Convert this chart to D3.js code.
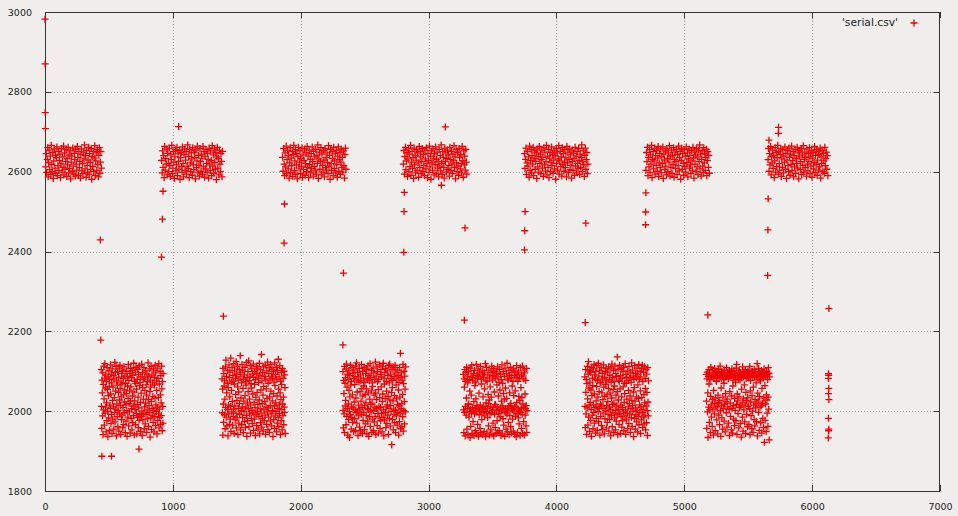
<!DOCTYPE html>
<html>
<head>
<meta charset="utf-8">
<script src="https://cdn.jsdelivr.net/npm/d3@7"></script>
<style>
  html, body { margin: 0; padding: 0; background: #efeeec; }
  svg { display: block; }
</style>
</head>
<body>
<svg id="chart" width="958" height="516"></svg>
<script>
// ---------------- DATA ----------------
const xTicks = [0, 1000, 2000, 3000, 4000, 5000, 6000, 7000];
const yTicks = [1800, 2000, 2200, 2400, 2600, 2800, 3000];
const seriesName = "'serial.csv'";

// upper clusters: sample index start, index step, values
const highStart = [5, 912, 1858, 2803, 3750, 4700, 5655];
const highStep = 4;
const high1 = [2612,2645,2598,2631,2660,2587,2622,2654,2605,2639,2593,2666,2618,2600,2648,2583,2627,2657,2609,2641,
2596,2635,2662,2590,2615,2651,2603,2628,2644,2585,2620,2658,2599,2637,2611,2664,2592,2647,2606,2625,
2655,2588,2633,2617,2661,2597,2642,2608,2652,2582,2624,2639,2601,2659,2614,2594,2646,2630,2589,2656,
2619,2604,2663,2636,2591,2650,2610,2626,2584,2643,2657,2602,2621,2595,2649,2632,2667,2607,2640,2586,
2653,2616,2598,2629,2661,2593,2645,2623,2605,2658,2581,2638,2613,2651,2600,2634,2665,2590,2627,2647,
2603,2655,2618,2587,2641,2660,2596,2624,2650,2609];
const high2 = [2628,2597,2652,2611,2640,2585,2663,2604,2633,2619,2657,2592,2646,2621,2600,2659,2615,2588,2642,2630,
2666,2595,2609,2650,2624,2583,2637,2655,2602,2617,2661,2590,2645,2626,2606,2653,2581,2635,2648,2613,
2599,2662,2620,2587,2643,2657,2603,2629,2651,2594,2614,2667,2608,2638,2585,2656,2622,2600,2647,2632,
2591,2660,2618,2605,2649,2636,2582,2654,2610,2627,2664,2597,2641,2616,2589,2658,2625,2601,2644,2634,
2593,2663,2612,2650,2586,2639,2607,2655,2621,2598,2646,2631,2584,2659,2617,2603,2652,2628,2590,2665,
2614,2642,2596,2657,2623,2606,2648,2580,2637,2661,2609,2633,2592,2654,2619,2600,2645,2626,2587,2651];
const high3 = [2636,2601,2658,2619,2590,2647,2612,2664,2595,2630,2653,2607,2641,2584,2622,2660,2598,2634,2615,2650,
2588,2643,2666,2603,2627,2655,2593,2617,2646,2582,2638,2661,2609,2624,2652,2596,2633,2614,2659,2586,
2642,2605,2628,2657,2591,2620,2648,2600,2663,2611,2639,2585,2654,2618,2631,2597,2645,2608,2662,2625,
2589,2651,2613,2637,2602,2656,2594,2640,2621,2667,2583,2632,2649,2606,2626,2660,2592,2644,2616,2599,
2653,2629,2587,2658,2610,2635,2604,2647,2623,2595,2665,2614,2641,2581,2656,2620,2603,2650,2633,2590,
2661,2608,2627,2645,2597,2654,2618,2586,2639,2662,2601,2630,2648,2593,2624,2657,2611,2636,2599,2652,
2615,2584,2643,2659,2606];
const high4 = [2619,2653,2594,2638,2661,2605,2627,2648,2588,2632,2657,2600,2644,2613,2666,2591,2624,2651,2608,2635,
2583,2659,2617,2641,2597,2629,2655,2603,2647,2622,2586,2663,2610,2637,2650,2595,2626,2658,2601,2643,
2615,2590,2654,2632,2607,2660,2620,2585,2646,2628,2598,2664,2612,2639,2581,2652,2623,2604,2657,2634,
2592,2645,2618,2662,2596,2631,2649,2609,2626,2587,2656,2614,2640,2602,2667,2621,2593,2650,2636,2611,
2584,2659,2625,2647,2599,2633,2654,2606,2642,2616,2589,2661,2630,2603,2651,2619,2595,2644,2627,2665,
2610,2637,2582,2655,2622,2600,2648,2614,2591,2658,2635,2607,2643,2620,2597,2663,2628,2586,2652,2617,
2639,2604,2656,2624,2594];
const high5 = [2645,2608,2631,2659,2593,2622,2650,2614,2637,2586,2664,2603,2628,2655,2597,2641,2619,2661,2590,2633,
2652,2606,2626,2647,2583,2657,2612,2638,2599,2663,2621,2644,2595,2630,2654,2609,2636,2588,2660,2617,
2649,2602,2625,2666,2592,2639,2611,2656,2585,2634,2648,2600,2623,2662,2615,2643,2596,2629,2653,2607,
2640,2581,2658,2620,2647,2604,2632,2665,2594,2627,2651,2613,2637,2589,2660,2618,2645,2601,2624,2655,
2610,2635,2587,2663,2622,2649,2598,2631,2657,2605,2642,2616,2584,2654,2626,2603,2646,2633,2591,2661,
2614,2639,2597,2650,2621,2608,2658,2628,2593,2644,2611,2636,2667,2600,2625,2652,2617,2588,2641,2659,
2606,2630,2648,2595,2619];
const high6 = [2603,2648,2625,2661,2590,2636,2612,2655,2598,2642,2619,2666,2585,2631,2650,2607,2627,2659,2594,2640,
2616,2653,2601,2634,2663,2588,2622,2646,2610,2657,2597,2638,2620,2662,2583,2644,2629,2605,2652,2614,
2592,2658,2633,2600,2647,2624,2665,2589,2637,2611,2654,2596,2641,2618,2660,2586,2630,2649,2608,2626,
2656,2593,2643,2615,2664,2602,2635,2651,2581,2628,2659,2606,2645,2621,2591,2655,2613,2639,2599,2662,
2623,2647,2587,2632,2657,2609,2640,2617,2595,2653,2627,2604,2661,2634,2584,2649,2619,2642,2600,2658,
2612,2637,2593,2654,2625,2667,2607,2644,2589,2631,2652,2614,2598,2660,2622,2646,2603,2636,2656,2590,
2628,2650,2611,2641,2596];
const high7 = [2630,2658,2601,2645,2617,2663,2592,2638,2622,2654,2608,2641,2585,2627,2660,2599,2648,2613,2635,2666,
2594,2651,2620,2604,2643,2657,2588,2632,2611,2655,2597,2639,2624,2662,2606,2646,2583,2629,2653,2615,
2600,2659,2636,2591,2644,2618,2664,2603,2628,2650,2587,2640,2612,2656,2596,2633,2621,2661,2609,2647,
2582,2637,2653,2605,2625,2658,2593,2642,2616,2665,2599,2631,2649,2610,2636,2589,2657,2619,2602,2645,
2626,2660,2595,2639,2614,2652,2586,2634,2648,2607,2623,2663,2598,2641,2618,2655,2591,2629,2651,2604,
2643,2612,2659,2584,2637,2621,2654,2600,2646,2627,2596,2661,2615,2633,2649,2606,2640,2590];

// lower clusters
const lowStart = [440, 1385, 2330, 3272, 4222, 5172];
const lowStep = 2;
const low1 = [2104,2012,1957,2078,2046,1988,2096,1941,2067,2003,2113,2031,1965,2083,2119,1995,2058,2010,2091,1948,
2074,2021,1976,2109,2054,1999,1936,2086,2039,1983,2101,2062,1952,2079,2015,2007,2116,2043,1969,2093,
1992,2071,1944,2106,2027,1980,2060,2089,2011,1955,2081,2034,1997,2122,1973,2097,2050,2005,2112,1938,
2076,2018,1986,2065,2099,1961,2002,2047,2085,1950,2108,2028,1993,2115,2057,2014,1942,2073,2036,1979,
2094,2068,1990,2103,1958,2009,2082,2041,1967,2111,2023,1996,2053,2088,1946,2070,2016,1975,2100,2044,
2001,1937,2087,2063,1985,2032,2117,1963,2077,2019,1998,2051,2095,1945,2025,2107,2061,1982,2084,2006,
1953,2102,2038,1971,2090,2013,1989,2120,2048,1940,2075,2026,2004,2098,1966,2069,2110,1994,2055,1943,
2080,2017,1984,2105,2035,1959,2092,2008,1977,2114,2064,1991,2072,1949,2022,2086,2045,1987,2118,2000,
1939,2097,2059,1978,2079,2030,1995,2109,1956,2011,2084,2052,1968,2101,2020,1992,2066,2040,1947,2093,
2003,2074,1981,2121,2029,1962,2088,2014,1997,2106,2049,1935,2078,2060,1983,2112,2024,1954,2091,2007,
1990,2071,2037,1972,2103,2002,1948,2085,2065,1986,2033,2115,1964,2096,2016,1999,2076,2052,1943,2108,
2010,1977,2082,2034,1993,2119,1958,2068,2005,1984,2100,2041,1967,2089,2021,1989,2113,2056,1951,2074,
2012,1970,2094];
const low2 = [2081,1996,2055,1940,2107,2018,1972,2094,2063,1991,2076,2030,1956,2111,2009,2128,1985,2087,2046,1963,
2070,2004,2102,1938,2059,2015,1993,2116,2084,1967,2036,2098,1980,2012,2133,1949,2073,2052,1998,2109,
2024,1965,2089,2075,1987,2005,2119,1944,2068,2101,2013,1978,2082,2042,1995,2124,1958,2092,2027,1983,
2113,2061,1941,2078,2007,2048,1970,2105,2019,1992,2086,2139,1953,2096,2033,2001,2071,1966,2117,2011,
1984,2103,2057,1946,2080,2025,1999,2091,1974,2110,2039,1959,2074,2010,2065,1989,2122,1937,2084,2020,
1976,2099,2049,2006,2126,1961,2077,2030,1993,2088,2114,1945,2016,2069,2058,1982,2106,2002,1969,2093,
2043,1996,2118,1952,2085,2022,1980,2067,2100,2009,1939,2079,2035,1991,2112,1964,2095,2047,2000,2108,
2017,1955,2083,2072,1987,2028,2120,1943,2090,2006,1971,2104,2053,1995,2142,1960,2076,2019,1982,2097,
2040,1950,2111,2062,2003,1977,2087,2024,1990,2115,1942,2081,2011,2056,1967,2101,2032,1998,2123,1954,
2070,2008,1985,2094,2109,1947,2036,2078,2014,1975,2117,2050,1993,2088,1963,2105,2026,2001,2083,1936,
2099,2044,1979,2073,2013,1957,2121,2064,1988,2092,2021,1999,2110,1948,2080,2038,1970,2102,2007,1984,
2130,2055,1961,2086,2016,1994,2114,2046,1941,2075,2029,1976,2097,2067,2004,1953,2107,2018,1989,2082,
2035,1966,2100,2010,1997,2091,2059,1944];
const low3 = [2099,2002,1958,2077,2044,1993,2112,1946,2070,2013,2084,2027,1966,2106,2118,1987,2060,2006,2093,1940,
2079,2018,1979,2101,2052,1999,1934,2089,2036,1991,2115,2065,1955,2074,2011,1984,2109,2041,1972,2095,
2008,2082,1949,2103,2023,1981,2067,2087,2003,1952,2113,2033,1996,2121,1970,2078,2048,2000,2097,1939,
2086,2015,1988,2073,2107,1960,2005,2049,2091,1950,2076,2025,1992,2117,2057,2009,1944,2100,2038,1977,
2083,2063,1997,2110,1954,2014,2072,2042,1968,2094,2021,1989,2056,2105,1943,2081,2007,1975,2114,2046,
2004,1937,2090,2076,1986,2030,2119,1962,2085,2017,1998,2051,2102,1947,2020,2071,2062,1980,2108,2001,
1951,2096,2040,1973,2080,2010,1987,2123,2045,1941,2088,2029,2006,2111,1964,2074,2099,1994,2054,1945,
2079,2012,1983,2116,2034,1957,2092,2009,1976,2104,2061,1995,2086,1948,2024,2113,2043,1985,2120,2003,
1938,2083,2068,1978,2097,2032,1996,2107,1959,2011,2075,2050,1969,2101,2016,1990,2089,2037,1942,2114,
2007,2071,1982,2118,2028,1963,2093,2014,1999,2082,2047,1916,2105,2059,1979,2077,2026,1953,2110,2005,
1992,2087,2039,1971,2115,2002,1946,2098,2066,1988,2031,2081,1965,2103,2017,1997,2090,2053,1940,2072,
2013,1974,2109,2035,1994,2145,1956,2085,2006,2096,2019,1961,2078,2042,1986,2117,1950,2069,2001,2100,
2024,1968,2088,2055,1998,2111];
const low4 = [2092,2003,1946,2081,2060,1997,2104,1938,2012,2075,2097,1990,2033,2110,1955,2007,2086,2071,1941,2017,
2099,2018,1985,2079,1999,2050,1934,2108,2005,1962,2088,2040,1995,2115,1944,2009,2084,2077,1974,2001,
2094,2024,1939,2102,1993,2064,2006,1951,2073,2031,1998,2117,1943,2014,2090,2082,1967,2010,2106,1937,
2087,2045,1991,2003,2098,1957,2015,2112,1946,2000,2080,2068,1979,2008,2093,1941,2101,2036,1996,2085,
2012,1949,2096,2056,1988,2005,2119,1936,2076,2021,1999,2109,1945,2074,2007,1984,2091,2042,1963,2019,
2103,2028,1940,2083,1994,2061,2011,1953,2097,2035,1997,2113,1942,2003,2078,2088,1970,2009,2107,1938,
2089,2048,1992,2016,2100,1959,2017,2082,1944,2002,2095,2066,1976,2010,2111,1947,2086,2038,1995,2072,
2004,1951,2105,2053,1986,2008,2092,1939,2079,2025,2000,2116,1943,2070,2013,1981,2099,2044,1965,2005,
2087,2030,1937,2108,1996,2058,2007,1955,2094,2032,1993,2120,1948,2001,2081,2078,1972,2011,2102,1941,
2090,2046,1989,2014,2110,1961,2019,2084,1945,2006,2097,2063,1980,2003,2075,1950,2106,2039,1998,2089,
2009,1942,2101,2051,1987,2012,2085,1936,2114,2022,1994,2093,1946,2075,2005,1983,2098,2037,1968,2000,
2082,2027,1939,2109,1997,2059,2008,1957,2091,2034,1992,2113,1944,2018,2088,2081,1974,2010,2103,1940,
2096,2043,1990,2006,2077,1963,2014,2107,1947,2001];
const low5 = [2086,2012,1959,2104,2047,1993,2079,1942,2069,2008,2112,2031,1965,2093,2124,1985,2058,2015,2101,1949,
2073,2022,1977,2097,2053,2004,1937,2110,2039,1990,2083,2064,1956,2106,2016,1997,2117,2043,1970,2091,
2009,2080,1945,2099,2026,1982,2062,2114,2011,1952,2077,2035,1999,2120,1974,2088,2049,2006,2103,1940,
2072,2018,1987,2071,2109,1964,2013,2046,2095,1954,2081,2029,1995,2116,2060,2007,1943,2085,2037,1981,
2100,2067,2001,2107,1958,2014,2076,2041,1972,2098,2024,1992,2057,2111,1950,2079,2010,1979,2090,2045,
2005,1938,2108,2073,1989,2033,2118,1961,2084,2017,1996,2054,2102,1946,2020,2074,2063,1983,2113,2002,
1953,2094,2040,1975,2087,2013,1991,2136,2049,1941,2105,2028,2004,2078,1967,2075,2115,1994,2056,1944,
2089,2015,1986,2106,2036,1960,2082,2009,1976,2099,2061,1998,2110,1951,2022,2070,2044,1988,2119,2003,
1942,2092,2070,1980,2085,2030,1995,2101,1957,2011,2077,2052,1969,2112,2019,1993,2084,2038,1947,2096,
2006,2072,1984,2121,2027,1962,2103,2014,1999,2088,2048,1936,2080,2059,1982,2114,2025,1955,2095,2008,
1991,2083,2036,1973,2108,2002,1948,2091,2066,1987,2032,2117,1966,2079,2016,1997,2100,2051,1944,2086,
2011,1978,2107,2034,1996,2115,1959,2074,2005,1985,2097,2042,1968,2111,2021,1990,2082,2057,1953,2104,
2013,1971,2093,2047,2001,1939,2109,2023,1988,2076];
const low6 = [2092,2025,1957,2081,2098,1998,2046,1934,2087,2010,2104,2068,1972,2095,2003,2079,1946,2037,2110,2016,
1985,2089,2086,1962,2029,2101,2005,2093,1940,2052,2083,2019,1993,2107,2090,1951,2033,2096,2008,2076,
2075,1978,2099,2012,2088,1943,2040,2105,2022,1990,2085,2094,1966,2027,2113,2001,2091,1937,2058,2082,
2015,1983,2100,2088,1955,2035,2096,2006,2079,2070,1975,2103,2018,2093,1948,2044,2086,2024,1996,2109,
2087,1960,2030,2097,2011,2091,2081,1970,2084,2004,2102,1939,2049,2095,2020,1987,2089,2099,1953,2038,
2106,2007,2092,1945,2063,2078,2014,1980,2101,2086,1964,2032,2094,2002,2083,2073,1976,2108,2017,2117,
1942,2043,2090,2026,1994,2097,2080,1958,2036,2103,2009,2088,2078,1969,2096,2013,2091,1935,2055,2084,
2021,1985,2111,2093,1950,2031,2087,2003,2099,2066,1973,2090,2016,2104,1944,2047,2082,2027,1992,2095,
2086,1961,2034,2101,2012,2092,2083,1967,2089,2006,2112,1941,2051,2077,2023,1989,2098,2094,1956,2039,
2100,2000,2087,1947,2060,2093,2015,1979,2105,2085,1963,2029,2091,2008,2096,2071,1974,2088,2019,2119,
1938,2045,2094,2025,1997,2107,2080,1952,2037,2099,2010,2086,2076,1971,2092,2014,2102,1945,2057,2089,
2020,1982,2097,2084,1959,2033,2106,1922,2090,2064,1977,2093,
2018,2087,1949,2041,2100,2028,1995,2091,2079,1962,2035,2109,2005,2095,1928,2086];

// isolated samples (transitions, spikes, tail)
const extraX = [0,1,2,3,433,436,445,520,735,911,918,923,1045,1395,1870,1873,2330,2334,2806,2808,2810,3100,3131,3280,3285,
  3750,3752,3755,4225,4230,4697,4698,4700,5184,5652,5654,5656,5662,5736,5737,
  6126,6127,6127,6128,6128,6129,6129,6130,6130,6131,6131];
const extraY = [2982,2870,2748,2708,2429,2178,1887,1887,1905,2386,2481,2551,2713,2238,2421,2519,2166,2346,2398,2500,2548,2566,2712,2228,2459,
  2404,2452,2500,2222,2471,2467,2499,2547,2241,2340,2454,2532,2679,2696,2711,
  1933,2082,1982,2094,2044,2090,1951,2057,1955,2029,2257];

// ---------------- BUILD POINTS ----------------
const highs = [high1, high2, high3, high4, high5, high6, high7];
const lows = [low1, low2, low3, low4, low5, low6];
const points = [];
highs.forEach((arr, k) => arr.forEach((v, i) => points.push({x: highStart[k] + i * highStep, y: v})));
lows.forEach((arr, k) => arr.forEach((v, i) => points.push({x: lowStart[k] + i * lowStep, y: v})));
extraX.forEach((xv, i) => points.push({x: xv, y: extraY[i]}));

// ---------------- DRAW ----------------
const W = 958, H = 516;
const L = 45, R = 940, T = 12, B = 491;
const RED = "#f00000";
const FONT = "'DejaVu Sans', sans-serif";
const svg = d3.select("#chart");
svg.append("rect").attr("width", W).attr("height", H).attr("fill", "#efeeec");

const x = d3.scaleLinear().domain([0, 7000]).range([L, R]);
const y = d3.scaleLinear().domain([1800, 3000]).range([B, T]);

// grid
const grid = svg.append("g");
grid.selectAll("line.gv").data(xTicks.slice(1, -1)).join("line")
  .attr("class", "gv")
  .attr("x1", d => Math.round(x(d)) + 0.5).attr("x2", d => Math.round(x(d)) + 0.5)
  .attr("y1", T).attr("y2", B);
grid.selectAll("line.gh").data(yTicks.slice(1, -1)).join("line")
  .attr("class", "gh")
  .attr("y1", d => Math.round(y(d)) + 0.5).attr("y2", d => Math.round(y(d)) + 0.5)
  .attr("x1", L).attr("x2", R);
grid.selectAll("line")
  .attr("stroke", "#9a9a9a").attr("stroke-width", 1)
  .attr("stroke-dasharray", "1,2").attr("shape-rendering", "crispEdges");

// axes (ticks pointing inward, mirrored)
function styleAxis(g) {
  g.select(".domain").remove();
  g.selectAll(".tick line").attr("stroke", "#333").attr("shape-rendering", "crispEdges");
  g.selectAll(".tick text").attr("fill", "#222")
    .style("font-family", FONT).style("font-size", "9.5px");
}
svg.append("g").attr("transform", `translate(0,${B})`)
  .call(d3.axisBottom(x).tickValues(xTicks).tickFormat(d3.format("d")).tickSizeInner(-6).tickSizeOuter(0).tickPadding(12))
  .call(styleAxis);
svg.append("g").attr("transform", `translate(0,${T})`)
  .call(d3.axisTop(x).tickValues(xTicks).tickFormat(() => "").tickSizeInner(-6).tickSizeOuter(0))
  .call(styleAxis);
svg.append("g").attr("transform", `translate(${L},0)`)
  .call(d3.axisLeft(y).tickValues(yTicks).tickFormat(d3.format("d")).tickSizeInner(-6).tickSizeOuter(0).tickPadding(13))
  .call(styleAxis);
svg.append("g").attr("transform", `translate(${R},0)`)
  .call(d3.axisRight(y).tickValues(yTicks).tickFormat(() => "").tickSizeInner(-6).tickSizeOuter(0))
  .call(styleAxis);

// border
svg.append("rect").attr("x", L + 0.5).attr("y", T + 0.5)
  .attr("width", R - L - 1).attr("height", B - T)
  .attr("fill", "none").attr("stroke", "#333").attr("stroke-width", 1)
  .attr("shape-rendering", "crispEdges");

// points (gnuplot "+" markers)
const plus = "M-3.5,0H3.5M0,-3.5V3.5";
const pts = svg.append("g").attr("class", "points");
pts.selectAll("path.pt").data(points).join("path")
  .attr("class", "pt")
  .attr("transform", d => `translate(${x(d.x)},${y(d.y)})`)
  .attr("d", plus)
  .attr("fill", "none")
  .attr("stroke", RED)
  .attr("stroke-width", 1.3);

// legend
svg.append("text").attr("x", 898).attr("y", 26).attr("text-anchor", "end")
  .style("font-family", FONT).style("font-size", "10.7px").attr("fill", "#222")
  .text(seriesName);
svg.append("path").attr("d", plus).attr("fill", "none").attr("stroke", RED).attr("stroke-width", 1.3)
  .attr("transform", "translate(914,23)");
</script>
</body>
</html>
